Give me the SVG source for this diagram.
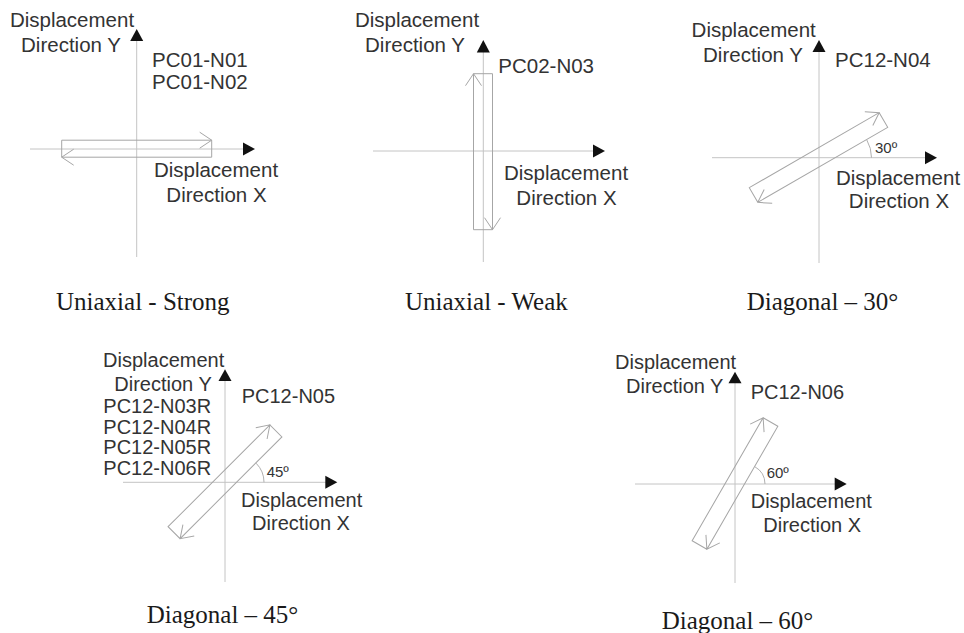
<svg xmlns="http://www.w3.org/2000/svg" width="964" height="633" viewBox="0 0 964 633">
<style>
.axis{stroke:#c4c4c4;stroke-width:1;fill:none}
.head{fill:#111}
.sp{stroke:#a6a6a6;stroke-width:1;fill:none;stroke-linejoin:miter}
.arc{stroke:#b0b0b0;stroke-width:1;fill:none}
.lbl{font-family:"Liberation Sans",Arial,sans-serif;font-size:20.5px;fill:#333}
.lbl2{font-family:"Liberation Sans",Arial,sans-serif;font-size:20px;fill:#333}
.ang{font-family:"Liberation Sans",Arial,sans-serif;font-size:15px;fill:#333}
.cap{font-family:"Liberation Serif","Times New Roman",serif;font-size:25px;fill:#1a1a1a}
</style>
<rect width="964" height="633" fill="#fff"/>

<g id="panel-uniaxial-strong">
  <line class="axis" x1="136.7" y1="257" x2="136.7" y2="40"/>
  <polygon class="head" points="136.7,29 130.2,41 143.2,41"/>
  <line class="axis" x1="30" y1="149" x2="244" y2="149"/>
  <polygon class="head" points="255,149 243,142.5 243,155.5"/>
  <path class="sp" transform="translate(136.7,148.7)" d="M-75,-8.5H75V8.5H-75Z M63,-16.5L75,-8.5L63,-0.5 M-63,0.5L-75,8.5L-63,16.5"/>
  <text class="lbl" x="72" y="26.7" text-anchor="middle">Displacement</text>
  <text class="lbl" x="71" y="51.7" text-anchor="middle">Direction Y</text>
  <text class="lbl" x="152" y="67">PC01-N01</text>
  <text class="lbl" x="152" y="89">PC01-N02</text>
  <text class="lbl" x="216" y="177" text-anchor="middle">Displacement</text>
  <text class="lbl" x="216.5" y="202" text-anchor="middle">Direction X</text>
  <text class="cap" x="56" y="310">Uniaxial - Strong</text>
</g>

<g id="panel-uniaxial-weak">
  <line class="axis" x1="483.3" y1="262" x2="483.3" y2="52"/>
  <polygon class="head" points="483.3,40 476.8,52.5 489.8,52.5"/>
  <line class="axis" x1="373" y1="151" x2="594" y2="151"/>
  <polygon class="head" points="605,151 593,144.5 593,157.5"/>
  <path class="sp" transform="translate(483,151.7) rotate(-90)" d="M-78,-9.5H78V9.5H-78Z M66,-17.5L78,-9.5L66,-1.5 M-66,1.5L-78,9.5L-66,17.5"/>
  <text class="lbl" x="417" y="26.7" text-anchor="middle">Displacement</text>
  <text class="lbl" x="415" y="52.3" text-anchor="middle">Direction Y</text>
  <text class="lbl" x="498.3" y="72.7">PC02-N03</text>
  <text class="lbl" x="566" y="180" text-anchor="middle">Displacement</text>
  <text class="lbl" x="566.5" y="205" text-anchor="middle">Direction X</text>
  <text class="cap" x="405" y="310">Uniaxial - Weak</text>
</g>

<g id="panel-diagonal-30">
  <line class="axis" x1="819" y1="263" x2="819" y2="52"/>
  <polygon class="head" points="819,40 812.5,52 825.5,52"/>
  <line class="axis" x1="712" y1="157.7" x2="926" y2="157.7"/>
  <polygon class="head" points="937,157.7 925,151.2 925,164.2"/>
  <path class="sp" transform="translate(818.5,157.5) rotate(-30)" d="M-75,-8.5H75V8.5H-75Z M63,-16.5L75,-8.5L63,-0.5 M-63,0.5L-75,8.5L-63,16.5"/>
  <path class="arc" d="M871.5,157.7 A36,36 0 0 0 866.7,139.7"/>
  <text class="ang" x="875" y="153.3">30º</text>
  <text class="lbl" x="753.7" y="36.7" text-anchor="middle">Displacement</text>
  <text class="lbl" x="753" y="61.7" text-anchor="middle">Direction Y</text>
  <text class="lbl" x="835" y="66.7">PC12-N04</text>
  <text class="lbl" x="898" y="185" text-anchor="middle">Displacement</text>
  <text class="lbl" x="899" y="208.3" text-anchor="middle">Direction X</text>
  <text class="cap" x="746.7" y="310">Diagonal – 30°</text>
</g>

<g id="panel-diagonal-45">
  <line class="axis" x1="225" y1="582" x2="225" y2="381"/>
  <polygon class="head" points="225,369.3 218.5,381 231.5,381"/>
  <line class="axis" x1="123" y1="482.3" x2="326" y2="482.3"/>
  <polygon class="head" points="337.3,482.3 325.3,475.8 325.3,488.8"/>
  <path class="sp" transform="translate(225,481.8) rotate(-45)" d="M-72,-8.5H72V8.5H-72Z M60,-16.5L72,-8.5L60,-0.5 M-60,0.5L-72,8.5L-60,16.5"/>
  <path class="arc" d="M264,482.3 A27,27 0 0 0 256.1,463.2"/>
  <text class="ang" x="266.7" y="476.7">45º</text>
  <text class="lbl2" x="163.7" y="367.3" text-anchor="middle">Displacement</text>
  <text class="lbl2" x="163" y="391" text-anchor="middle">Direction Y</text>
  <text class="lbl2" x="103.3" y="413.3">PC12-N03R</text>
  <text class="lbl2" x="103.3" y="433.5">PC12-N04R</text>
  <text class="lbl2" x="103.3" y="454">PC12-N05R</text>
  <text class="lbl2" x="103.3" y="475">PC12-N06R</text>
  <text class="lbl2" x="241.7" y="402.7">PC12-N05</text>
  <text class="lbl2" x="301.7" y="506.7" text-anchor="middle">Displacement</text>
  <text class="lbl2" x="301" y="530" text-anchor="middle">Direction X</text>
  <text class="cap" x="146.7" y="623.3">Diagonal – 45°</text>
</g>

<g id="panel-diagonal-60">
  <line class="axis" x1="735" y1="583" x2="735" y2="383"/>
  <polygon class="head" points="735,371.7 728.5,383.3 741.5,383.3"/>
  <line class="axis" x1="635" y1="484" x2="836" y2="484"/>
  <polygon class="head" points="846.7,484 834.7,477.5 834.7,490.5"/>
  <path class="sp" transform="translate(735,483.5) rotate(-60)" d="M-71,-8.5H71V8.5H-71Z M59,-16.5L71,-8.5L59,-0.5 M-59,0.5L-71,8.5L-59,16.5"/>
  <path class="arc" d="M765,484 A20,20 0 0 0 754.8,466.7"/>
  <text class="ang" x="766.7" y="478.3">60º</text>
  <text class="lbl2" x="615" y="369.3">Displacement</text>
  <text class="lbl2" x="626" y="393.3">Direction Y</text>
  <text class="lbl2" x="750.7" y="399.3">PC12-N06</text>
  <text class="lbl2" x="750.7" y="508.3">Displacement</text>
  <text class="lbl2" x="763.3" y="531.7">Direction X</text>
  <text class="cap" x="661.7" y="629">Diagonal – 60°</text>
</g>
</svg>
